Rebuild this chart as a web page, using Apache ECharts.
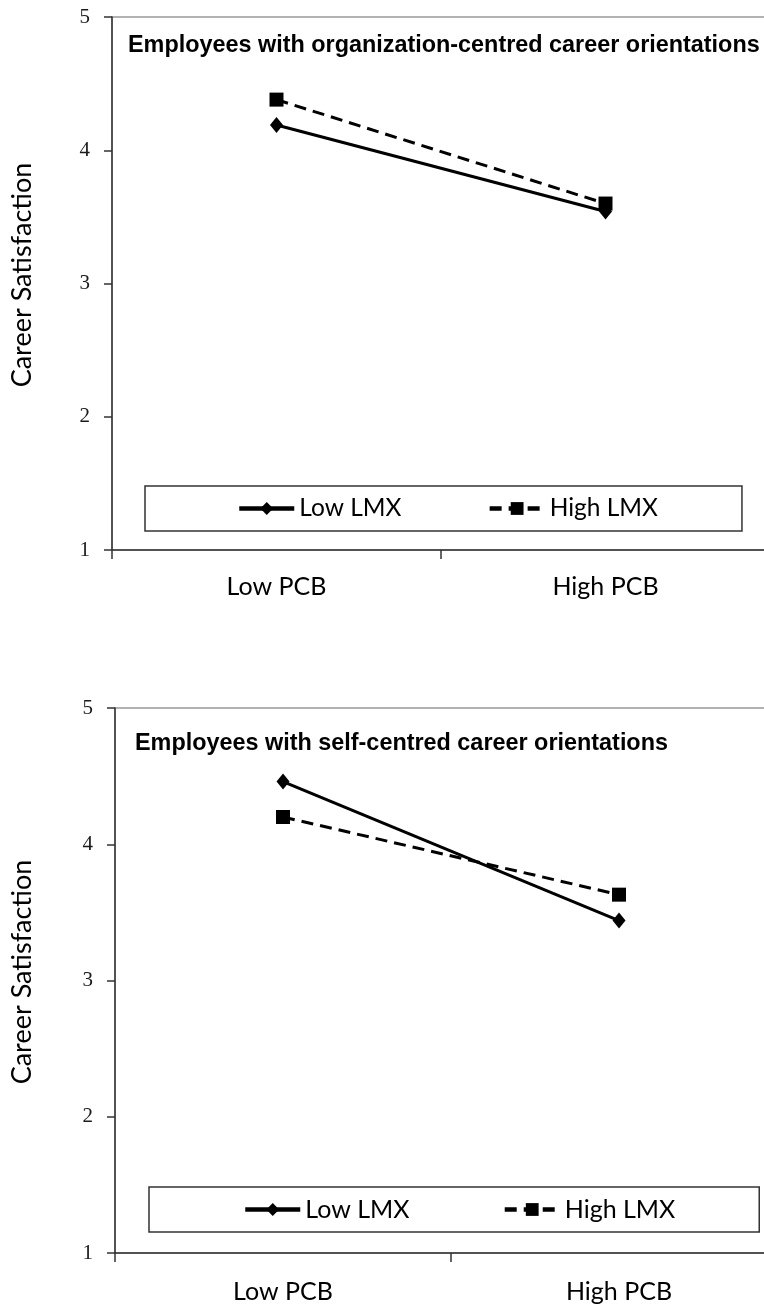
<!DOCTYPE html>
<html><head><meta charset="utf-8">
<script src="https://cdn.jsdelivr.net/npm/echarts@6/dist/echarts.min.js"></script>
<style>html,body{margin:0;padding:0;background:#fff}#c{width:764px;height:1307px}</style>
</head><body><div id="c"></div>
<script>
const categories = ['Low PCB', 'High PCB'];
const seriesNames = ['Low LMX', 'High LMX'];
const yTicks = [1, 2, 3, 4, 5];
const orgLow = [4.19, 3.54];
const orgHigh = [4.38, 3.60];
const selfLow = [4.46, 3.44];
const selfHigh = [4.20, 3.63];
const titles = ['Employees with organization-centred career orientations', 'Employees with self-centred career orientations'];
const yName = 'Career Satisfaction';

const AX = '#333';
const humanist = 'Lato';

function xAxis(i, margin) {
  return {
    gridIndex: i, type: 'category', data: categories, boundaryGap: true,
    axisLine: {lineStyle: {color: AX, width: 1.5}},
    axisTick: {show: true, length: 9, lineStyle: {color: AX, width: 1.5}},
    axisLabel: {fontFamily: humanist, fontSize: 25, color: '#000', margin: margin}
  };
}
function yAxis(i, gap) {
  return {
    gridIndex: i, type: 'value', min: yTicks[0], max: yTicks[yTicks.length - 1], interval: 1,
    splitLine: {show: false},
    axisLine: {show: true, lineStyle: {color: AX, width: 1.5}},
    axisTick: {show: true, length: 8, lineStyle: {color: AX, width: 1.5}},
    axisLabel: {fontFamily: 'Liberation Serif', fontSize: 21, color: '#1a1a1a', margin: 22},
    name: yName, nameLocation: 'middle', nameRotate: 90, nameGap: gap,
    nameTextStyle: {fontFamily: humanist, fontSize: 27, color: '#000', padding: [0, 0, 0, 17]}
  };
}
function lowSeries(i, data) {
  return {name: seriesNames[0], type: 'line', xAxisIndex: i, yAxisIndex: i, data: data,
    symbol: 'diamond', symbolSize: [13, 16],
    lineStyle: {color: '#000', width: 3, type: 'solid'}, itemStyle: {color: '#000'}};
}
function highSeries(i, data) {
  return {name: seriesNames[1], type: 'line', xAxisIndex: i, yAxisIndex: i, data: data,
    symbol: 'rect', symbolSize: 14,
    lineStyle: {color: '#000', width: 3, type: [12, 7]}, itemStyle: {color: '#000'}};
}
function legend(left, top, pad, gap, fs) {
  return {data: seriesNames, left: left, top: top, orient: 'horizontal',
    itemWidth: 55, itemHeight: 16, itemGap: gap, padding: pad,
    borderColor: '#333', borderWidth: 1.5, borderRadius: 0,
    lineStyle: {width: 4.5},
    textStyle: {fontFamily: humanist, fontSize: fs, color: '#000'}};
}

const chart = echarts.init(document.getElementById('c'), null, {renderer: 'canvas'});
chart.setOption({
  animation: false,
  backgroundColor: '#fff',
  title: [
    {text: titles[0], left: 128, top: 34, padding: 0,
     textStyle: {fontFamily: 'Liberation Sans', fontWeight: 'bold', fontSize: 23.4, color: '#000'}},
    {text: titles[1], left: 135, top: 732, padding: 0,
     textStyle: {fontFamily: 'Liberation Sans', fontWeight: 'bold', fontSize: 23.4, color: '#000'}}
  ],
  legend: [
    legend(145, 486, [10, 84, 10, 92], 86, 24.5),
    legend(149, 1187, [10, 84, 10, 94], 93, 25)
  ],
  grid: [
    {left: 112, top: 17, width: 658, height: 533, outerBoundsMode: 'none', containLabel: false,
     show: true, borderColor: '#999', borderWidth: 1.5, backgroundColor: 'transparent'},
    {left: 115, top: 708, width: 672, height: 545, outerBoundsMode: 'none', containLabel: false,
     show: true, borderColor: '#999', borderWidth: 1.5, backgroundColor: 'transparent'}
  ],
  xAxis: [xAxis(0, 24), xAxis(1, 26)],
  yAxis: [yAxis(0, 76), yAxis(1, 79)],
  series: [lowSeries(0, orgLow), highSeries(0, orgHigh), lowSeries(1, selfLow), highSeries(1, selfHigh)]
});
</script>
</body></html>
